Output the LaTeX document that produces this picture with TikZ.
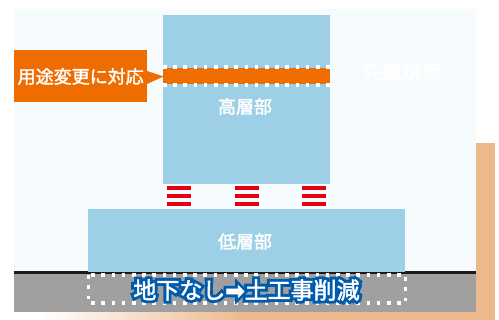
\documentclass[tikz,border=0pt]{standalone}
\usepackage{fontspec}
\usetikzlibrary{positioning}
\setmainfont{Noto Sans CJK JP}
\newfontfamily\haloface[FakeBold=27]{Noto Sans CJK JP}
\newfontfamily\boldface[FakeBold=2]{Noto Sans CJK JP}
\newfontfamily\arrowface[FakeBold=3]{DejaVu Sans}
\newfontfamily\arrowhalo[FakeBold=27]{DejaVu Sans}
\definecolor{panelblue}{HTML}{F6FBFE}
\definecolor{floorblue}{HTML}{9DD0E6}
\definecolor{bandorange}{HTML}{EF6C00}
\definecolor{sandpeach}{HTML}{EBB98C}
\definecolor{groundgray}{HTML}{A0A0A0}
\definecolor{groundline}{HTML}{231815}
\definecolor{isolred}{HTML}{E60012}
\definecolor{haloblue}{HTML}{005BAC}
\tikzset{
    isolbar/.style = {fill=isolred, draw=none, inner sep=0pt, minimum width=24pt, minimum height=4pt},
    dots/.style = {draw=white, line width=3.6pt, dash pattern=on 3.6pt off 6.6pt},
    label/.style = {text=white, inner sep=0pt, font=\boldface\fontsize{18}{18}\selectfont}
}
\begin{document}
\begin{tikzpicture}[x=1pt, y=-1pt]
    \useasboundingbox (0,0) rectangle (499,320);
    % backdrop
    \fill[sandpeach] (476,143) rectangle (495,320);
    \fill[left color=white, right color=sandpeach] (40,312) rectangle (250,320);
    \fill[sandpeach] (250,312) rectangle (495,320);
    \fill[panelblue] (14,9) rectangle (476,272);
    \fill[groundgray] (14,272) rectangle (476,312);
    \draw[groundline, line width=3pt] (14,272.5) -- (476,272.5);

    % building
    \fill[floorblue] (163,15) rectangle (330,184);
    \fill[floorblue] (88,209) rectangle (405,272);
    \node[label] (upper) at (245,106.5) {高層部};
    \node[label] (lower) at (245,241.5) {低層部};
    \node[label, font=\boldface\fontsize{19.5}{19.5}\selectfont] (scale) at (402,71.5) {免震規模};

    % use change
    \fill[bandorange] (163,68) rectangle (330,84);
    \draw[dots] (163,67.3) -- (330,67.3);
    \draw[dots] (163,85.3) -- (330,85.3);
    \node[fill=bandorange, text=white, inner sep=0pt, minimum width=132.5pt, minimum height=52pt,
        font=\boldface\fontsize{18}{18}\selectfont] (change) at (80.7,76.5) {用途変更に対応};
    \fill[bandorange] (147,71) -- (163.5,76.5) -- (147,84) -- cycle;

    % isolators
    \foreach \xpos in {179,247,314}
        \foreach \ypos in {188,196,204}
            \node[isolbar] (bar\xpos\ypos) at (\xpos,\ypos) {};

    % basement
    \draw[dots] (88.5,275.3) rectangle (405.3,303.3);
    \node[text=haloblue, inner sep=0pt, font=\haloface\fontsize{23}{23}\selectfont] (halotext) at (246.5,290)
        {地下なし{\arrowhalo ➡}土工事削減};
    \node[text=white, inner sep=0pt, font=\boldface\fontsize{23}{23}\selectfont] (nobasement) at (246.5,290)
        {地下なし{\arrowface ➡}土工事削減};
\end{tikzpicture}
\end{document}
